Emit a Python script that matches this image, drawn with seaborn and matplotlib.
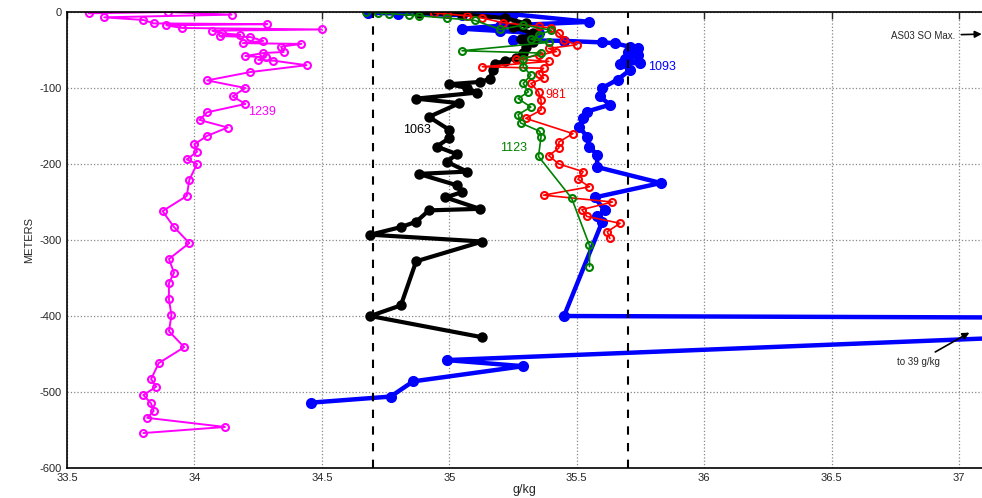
import numpy as np
import pandas as pd
import seaborn as sns
import matplotlib
matplotlib.use("Agg")
import matplotlib.pyplot as plt
from matplotlib.ticker import FormatStrFormatter

# station profiles: salinity (g/kg) vs depth (m)
sal_1239 = [33.586, 33.895, 34.146, 33.646, 33.80, 33.84, 34.286, 33.89, 33.95, 34.50,
            34.07, 34.11, 34.18, 34.10, 34.22, 34.27, 34.19, 34.42, 34.34, 34.35,
            34.27, 34.20, 34.28, 34.25, 34.31, 34.44, 34.22, 34.05, 34.20, 34.15,
            34.20, 34.05, 34.02, 34.13, 34.05, 34.00, 34.01, 33.97, 34.01, 33.98,
            33.97, 33.875, 33.92, 33.98, 33.90, 33.92, 33.90, 33.90, 33.91, 33.90,
            33.96, 33.86, 33.83, 33.85, 33.80, 33.83, 33.84, 33.815, 34.12, 33.80]
dep_1239 = [-1.7, 0, -3.5, -7, -10.5, -15, -16, -17.5, -21, -23,
            -24.6, -28, -30, -31.6, -33, -38, -41, -42, -45.6, -52.6,
            -54, -58, -59.6, -63, -64, -70, -79, -90, -100, -111,
            -121, -132, -142, -152, -163, -174, -184, -194, -200, -221,
            -242, -262, -283, -304, -325, -343, -357, -378, -399, -420,
            -441, -462, -483, -493, -504, -515, -525, -534, -546, -554]

sal_1093 = [34.68, 34.80, 35.05, 35.15, 35.25, 35.55, 35.20, 35.05, 35.20, 35.35,
            35.30, 35.25, 35.45, 35.60, 35.65, 35.71, 35.74, 35.70, 35.74, 35.69,
            35.75, 35.67, 35.71, 35.66, 35.60, 35.59, 35.63, 35.54, 35.525, 35.51,
            35.54, 35.55, 35.58, 35.58, 35.83, 35.57, 35.61, 35.58, 35.60, 35.45,
            39.0, 34.99, 35.29, 34.858, 34.77, 34.456]
dep_1093 = [-1, -2, -4, -2, -3, -13, -18, -22, -25, -28,
            -33, -37, -38, -40, -41, -46, -47, -52, -57, -62,
            -67, -68, -76, -89, -100, -111, -122, -131, -140, -151,
            -164, -177, -188, -204, -225, -244, -261, -269, -276, -400,
            -404, -458, -466, -486, -506, -514]

sal_1063 = [34.88, 35.05, 35.22, 35.30, 35.25, 35.33, 35.28, 35.33, 35.30, 35.29,
            35.26, 35.22, 35.18, 35.17, 35.16, 35.12, 35.00, 35.07, 35.11, 34.87,
            35.04, 34.92, 35.00, 35.00, 34.95, 35.03, 34.99, 35.07, 34.88, 35.03,
            35.05, 34.985, 35.12, 34.92, 34.87, 34.81, 34.69, 35.13, 34.87, 34.81,
            34.69, 35.13]
dep_1063 = [-1, -3, -8, -15, -20, -28, -35, -40, -46, -54,
            -61, -64, -68, -76, -88, -92, -95, -100, -106, -114,
            -120, -138, -155, -166, -177, -187, -197, -210, -213, -228,
            -237, -244, -259, -261, -276, -283, -293, -302, -328, -386,
            -400, -428]

sal_981 = [34.94, 34.99, 35.07, 35.13, 35.21, 35.35, 35.40, 35.43, 35.45, 35.50,
           35.39, 35.42, 35.35, 35.26, 35.39, 35.13, 35.37, 35.35, 35.37, 35.32,
           35.35, 35.36, 35.36, 35.30, 35.485, 35.43, 35.43, 35.39, 35.43, 35.525,
           35.505, 35.55, 35.37, 35.64, 35.52, 35.54, 35.67, 35.62, 35.63]
dep_981 = [-1, -2.6, -5, -8, -14, -19, -21, -28, -37, -43,
           -48, -52, -57, -62, -65, -72, -74, -81, -87, -94,
           -105, -116, -129, -140, -160, -171, -179, -189, -200, -210,
           -220, -230, -241, -250, -260, -269, -278, -289, -298]

sal_1123 = [34.675, 34.72, 34.765, 34.84, 34.88, 34.99, 35.10, 35.20, 35.29, 35.40,
            35.35, 35.32, 35.39, 35.05, 35.36, 35.29, 35.29, 35.32, 35.29, 35.31,
            35.27, 35.32, 35.27, 35.28, 35.355, 35.36, 35.35, 35.48, 35.55, 35.55]
dep_1123 = [-0.4, -1, -2, -4, -5, -8, -11, -23, -17, -24,
            -30, -36, -40, -51, -54, -62, -72, -83, -94, -105,
            -114, -125, -135, -146, -157, -164, -190, -245, -307, -335]

xticks = [33.5, 34, 34.5, 35, 35.5, 36, 36.5, 37]
yticks = [0, -100, -200, -300, -400, -500, -600]
limits = [34.7, 35.7]

sns.set_style("white")
plt.rcParams['font.family'] = ['Liberation Sans', 'DejaVu Sans']
plt.rcParams['axes.unicode_minus'] = False

fig = plt.figure(figsize=(9.82, 4.98), dpi=100)
ax = fig.add_axes([0.0682, 0.0602, 0.9318, 0.9157])

def profile(x, y, color, lw, ms, filled):
    sns.lineplot(x=x, y=y, sort=False, estimator=None, color=color, linewidth=lw,
                 marker='o', markersize=ms,
                 markerfacecolor=color if filled else 'none',
                 markeredgecolor=color, markeredgewidth=1.5, ax=ax)

profile(sal_1239, dep_1239, '#ff00ff', 1.4, 5, False)
profile(sal_1093, dep_1093, '#0000ff', 3.2, 6.5, True)
profile(sal_1063, dep_1063, 'black', 3.0, 6, True)
profile(sal_981, dep_981, '#ff0000', 1.2, 5, False)
profile(sal_1123, dep_1123, '#008000', 1.2, 5, False)

for v in limits:
    ax.axvline(v, color='black', linestyle='--', linewidth=1.5, dashes=(4, 4))

ax.text(34.21, -136, '1239', color='#ff00ff', fontsize=9)
ax.text(34.82, -159, '1063', color='black', fontsize=9)
ax.text(35.375, -113, '981', color='#ff0000', fontsize=9)
ax.text(35.20, -183, '1123', color='#008000', fontsize=9)
ax.text(35.78, -76, '1093', color='#0000ff', fontsize=9)

ax.annotate('AS03 SO Max.', xy=(37.1, -29), xytext=(36.985, -31), fontsize=7,
            ha='right', va='center', annotation_clip=False,
            arrowprops=dict(arrowstyle='-|>', color='black', lw=1.2, mutation_scale=10))
ax.annotate('to 39 g/kg', xy=(37.05, -420), xytext=(36.84, -460), fontsize=7,
            ha='center', va='center', annotation_clip=False,
            arrowprops=dict(arrowstyle='-|>', color='black', lw=1.2, mutation_scale=10))

ax.set_xlim(33.5, 37.09)
ax.set_ylim(-600, 0)
ax.set_xticks(xticks)
ax.set_yticks(yticks)
ax.xaxis.set_major_formatter(FormatStrFormatter('%g'))
ax.grid(True, linestyle=':', color='#888888', linewidth=0.9)
ax.tick_params(direction='in', top=True, length=5, labelsize=8, width=1)
ax.spines['right'].set_visible(False)
for s in ['left', 'top', 'bottom']:
    ax.spines[s].set_color('black')
    ax.spines[s].set_linewidth(1.2)
ax.set_xlabel('g/kg', fontsize=9, labelpad=1)
ax.set_ylabel('METERS', fontsize=8, labelpad=4)

fig.savefig('out.png', dpi=100)
